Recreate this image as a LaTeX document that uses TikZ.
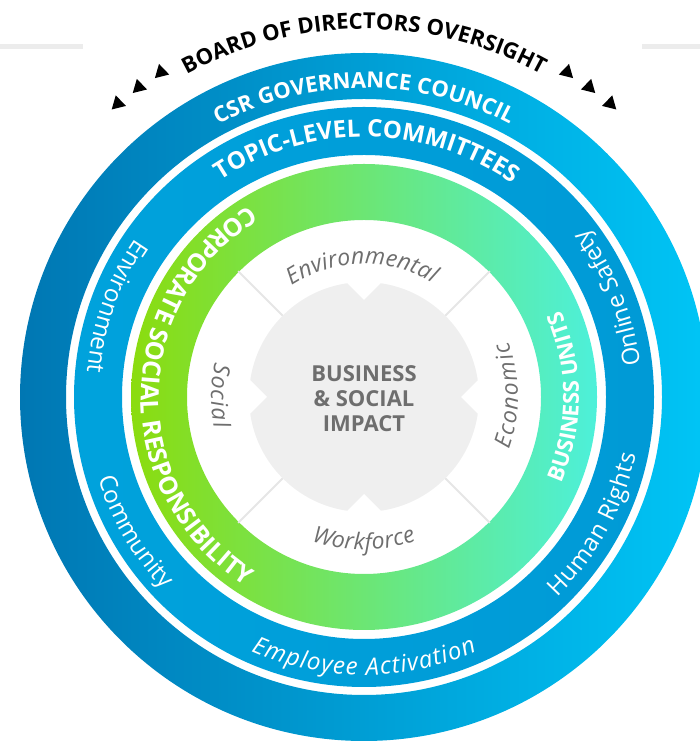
\documentclass[tikz,border=0pt]{standalone}
\usepackage{fontspec}
\setmainfont{Open Sans}
\usetikzlibrary{decorations.text,shapes.geometric}
\definecolor{outerL}{HTML}{0077B3}
\definecolor{outerR}{HTML}{00C5F6}
\definecolor{midL}{HTML}{00A2DC}
\definecolor{midR}{HTML}{009AD6}
\definecolor{grL}{HTML}{8BDC0E}
\definecolor{grM}{HTML}{6EE15E}
\definecolor{grR}{HTML}{4DF0DA}
\definecolor{hubcol}{HTML}{EFEFEF}
\definecolor{gtxt}{HTML}{6E6E6E}
\definecolor{barcol}{HTML}{ECECEC}
\definecolor{diagcol}{HTML}{E6E6E6}
\newcommand\boardfont{\fontsize{22}{22}\selectfont\bfseries\color{black}}
\newcommand\ringfont{\fontsize{22}{22}\selectfont\bfseries\color{white}}
\newcommand\topicfont{\fontsize{24}{24}\selectfont\bfseries\color{white}}
\newcommand\greenfont{\fontsize{25}{25}\selectfont\bfseries\color{white}}
\newcommand\bufont{\fontsize{22}{22}\selectfont\bfseries\color{white}}
\newcommand\bluefont{\fontsize{24}{24}\selectfont\color{white}}
\newcommand\blueitfont{\fontsize{24}{24}\selectfont\itshape\color{white}}
\newcommand\grayfont{\fontsize{23}{23}\selectfont\itshape\color{gtxt}}
\tikzset{
  arctxt/.style={decorate, decoration={text along path, text align=fit to path, text={#1}}},
  arctxtc/.style={decorate, decoration={text along path, text align=center, text={#1}}},
  diag/.style={draw=diagcol, line width=2pt},
  tri/.style={regular polygon, regular polygon sides=3, fill=black, draw=none, minimum size=17pt, inner sep=0pt},
}
\begin{document}
\begin{tikzpicture}[x=1pt,y=1pt]
\useasboundingbox (0,0) rectangle (700,744);
\clip (0,0) rectangle (700,744);
\fill[barcol] (0,695) rectangle (83,700);
\fill[barcol] (642,695) rectangle (700,700);
\begin{scope}[shift={(364,347)}]
  % rings
  \shade[left color=outerL, right color=outerR, even odd rule] (0,0) circle[radius=344] (0,0) circle[radius=298];
  \shade[left color=midL, right color=midR, even odd rule] (0,0) circle[radius=290] (0,0) circle[radius=242];
  \shade[left color=grL, middle color=grM, right color=grR, even odd rule] (0,0) circle[radius=233] (0,0) circle[radius=177];
  % diagonals
  \foreach \a in {45,135,225,315} \draw[diag] (\a:110) -- (\a:178);
  % hub
  \fill[hubcol] (0,0) circle[radius=115];
  \foreach \a in {0,90,180,270} \fill[white, rotate=\a] (97,0) -- (127,30) -- (127,-30) -- cycle;
  \node[font=\fontsize{22}{25}\selectfont\bfseries, text=gtxt, align=center] (impact) at (0,-2) {BUSINESS\\\& SOCIAL\\IMPACT};
  % triangles
  \node[tri, rotate=14] (tl1) at (122:383) {};
  \node[tri, rotate=14] (tl2) at (126:383) {};
  \node[tri, rotate=14] (tl3) at (130:383) {};
  \node[tri, rotate=-14] (tr1) at (58:383) {};
  \node[tri, rotate=-14] (tr2) at (54:383) {};
  \node[tri, rotate=-14] (tr3) at (50:383) {};
  % top texts (clockwise)
  \path[arctxtc={|\boardfont|BOARD OF DIRECTORS OVERSIGHT}] (135:368) arc[start angle=135, end angle=45, radius=368];
  \path[arctxtc={|\ringfont|CSR GOVERNANCE COUNCIL}] (130:309) arc[start angle=130, end angle=50, radius=309];
  \path[arctxt={|\topicfont|TOPIC-LEVEL COMMITTEES}] (123.5:260) arc[start angle=123.5, end angle=56.5, radius=260];
  \path[arctxt={|\grayfont|Environmental}] (123:133) arc[start angle=123, end angle=59, radius=133];
  % counterclockwise texts
  \path[arctxtc={|\bluefont|Environment}] (140:278) arc[start angle=140, end angle=180, radius=278];
  \path[arctxt={|\bluefont|Community}] (197:278) arc[start angle=197, end angle=223, radius=278];
  \path[arctxt={|\blueitfont|Employee Activation}] (246:278) arc[start angle=246, end angle=294, radius=278];
  \path[arctxt={|\bluefont|Human Rights}] (314:278) arc[start angle=314, end angle=348, radius=278];
  \path[arctxtc={|\bluefont|Online Safety}] (2:278) arc[start angle=2, end angle=42, radius=278];
  \path[arctxt={|\greenfont|CORPORATE SOCIAL RESPONSIBILITY}] (121:223) arc[start angle=121, end angle=238, radius=223];
  \path[arctxtc={|\bufont|BUSINESS UNITS}] (-32:215) arc[start angle=-32, end angle=32, radius=215];
  \path[arctxt={|\grayfont|Social}] (167:153) arc[start angle=167, end angle=192, radius=153];
  \path[arctxt={|\grayfont|Workforce}] (250:153) arc[start angle=250, end angle=290, radius=153];
  \path[arctxt={|\grayfont|Economic}] (-20:154) arc[start angle=-20, end angle=21, radius=154];
\end{scope}
\end{tikzpicture}
\end{document}
